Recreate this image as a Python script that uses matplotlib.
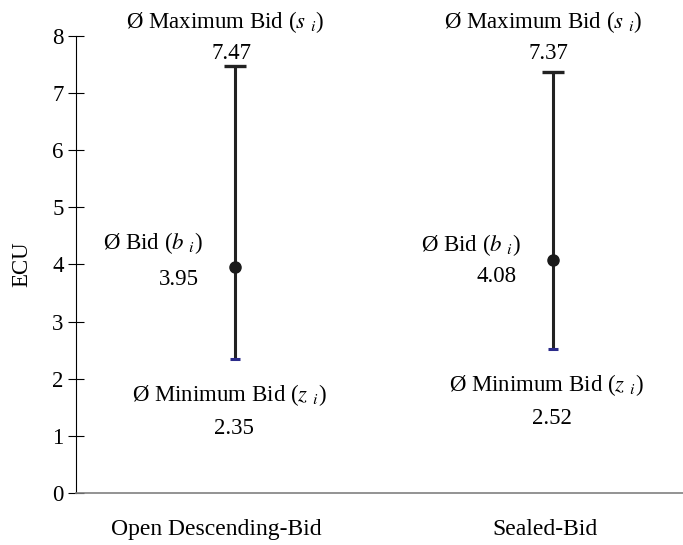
import numpy as np
import matplotlib
matplotlib.use("Agg")
import matplotlib.pyplot as plt

plt.rcParams["font.family"] = ["Liberation Serif", "DejaVu Serif"]
plt.rcParams["mathtext.fontset"] = "stix"

formats = ["Open Descending-Bid", "Sealed-Bid"]
max_bid = [7.47, 7.37]
mean_bid = [3.95, 4.08]
min_bid = [2.35, 2.52]

# hand placed label positions from the original chart
top_title_y = 8.24
top_value_y = 7.69
bid_label_y = [4.37, 4.34]
bid_value_y = [3.74, 3.78]
xtick_pos = [-0.057, 0.975]

fig = plt.figure(figsize=(6.83, 5.45), dpi=100)
ax = fig.add_axes([0.1113, 0.0954, 0.8887, 0.8391])

x = np.arange(len(formats))
fs = 16.5

ax.vlines(x, min_bid, max_bid, color="#222222", linewidth=2.2, zorder=2)
ax.plot(x, max_bid, linestyle="none", marker="_", markersize=16,
        markeredgewidth=2.4, color="#222222", zorder=3)
ax.plot(x, min_bid, linestyle="none", marker="_", markersize=7,
        markeredgewidth=2.2, color="#2b2b8a", zorder=3)
ax.plot(x, mean_bid, linestyle="none", marker="o", markersize=8,
        color="#1a1a1a", zorder=4)

for i in range(len(formats)):
    ax.text(x[i] - 0.03, top_title_y, r"Ø Maximum Bid ($s\ _i$)", ha="center",
            va="center", fontsize=fs)
    ax.text(x[i] - 0.012, top_value_y, f"{max_bid[i]:.2f}", ha="center",
            va="center", fontsize=fs)
    ax.text(x[i] - 0.258, bid_label_y[i], r"Ø Bid ($b\ _i$)", ha="center",
            va="center", fontsize=fs)
    ax.text(x[i] - 0.176, bid_value_y[i], f"{mean_bid[i]:.2f}", ha="center",
            va="center", fontsize=fs)
    ax.text(x[i] - 0.019, min_bid[i] - 0.635, r"Ø Minimum Bid ($z\ _i$)",
            ha="center", va="center", fontsize=fs)
    ax.text(x[i] - 0.003, min_bid[i] - 1.22, f"{min_bid[i]:.2f}", ha="center",
            va="center", fontsize=fs)

ax.set_xlim(-0.5, 1.41)
ax.set_ylim(0, 8)
ax.set_yticks(range(0, 9))
ax.set_xticks(xtick_pos)
ax.set_xticklabels(formats, fontsize=17)
ax.tick_params(axis="x", length=0, pad=19)
ax.tick_params(axis="y", direction="inout", length=12, width=0.8,
               labelsize=fs, pad=3)
ax.set_ylabel("ECU", fontsize=fs, labelpad=14)

ax.spines["top"].set_visible(False)
ax.spines["right"].set_visible(False)
ax.spines["bottom"].set_color("#808080")
ax.spines["bottom"].set_linewidth(1.2)
ax.spines["left"].set_linewidth(0.8)

fig.savefig("out.png", dpi=100)
